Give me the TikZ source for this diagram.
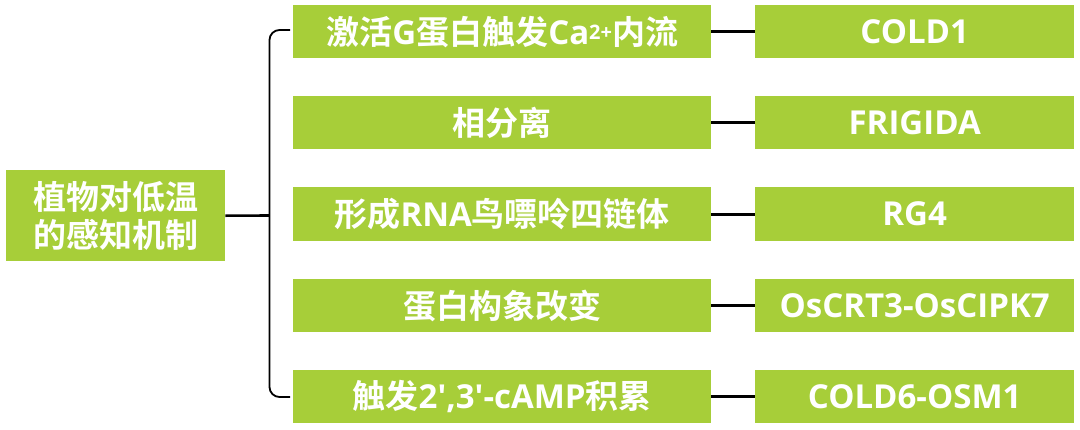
\documentclass[tikz,border=0pt]{standalone}
\usepackage{fontspec}
\setmainfont{Open Sans}[Ligatures=TeXOff]
\newfontfamily\zh{Noto Sans CJK SC}[BoldFont={Noto Sans CJK SC Bold}]
\definecolor{boxgreen}{RGB}{167,206,57}
\begin{document}
\begin{tikzpicture}[x=1pt,y=-1pt,
  gbox/.style={fill=boxgreen,draw=none,inner sep=0pt,anchor=north west,text=white,
    font=\bfseries\fontsize{33}{39}\selectfont,align=center},
  link/.style={line width=2.6pt,draw=black},
  brace/.style={line width=1.8pt,draw=black,rounded corners=10pt}]
\useasboundingbox (0,0) rectangle (1080,429);
% left box
\node[gbox,minimum width=219pt,minimum height=91pt] (root) at (6,170)
  {\zh 植物对低温\\[-1pt]\zh 的感知机制};
% middle boxes
\node[gbox,minimum width=418pt,minimum height=53pt] (m1) at (293,5)
  {{\zh 激活}G{\zh 蛋白触发}Ca\raisebox{5pt}{\fontsize{20}{20}\selectfont 2+}{\zh 内流}};
\node[gbox,minimum width=418pt,minimum height=53pt] (m2) at (293,96) {\zh 相分离};
\node[gbox,minimum width=418pt,minimum height=54pt] (m3) at (293,187) {{\zh 形成}RNA{\zh 鸟嘌呤四链体}};
\node[gbox,minimum width=418pt,minimum height=53pt] (m4) at (293,279) {\zh 蛋白构象改变};
\node[gbox,minimum width=418pt,minimum height=53pt] (m5) at (293,370) {{\zh 触发}2',3'-cAMP{\zh 积累}};
% right boxes
\node[gbox,minimum width=319pt,minimum height=53pt] (r1) at (755,5) {COLD1};
\node[gbox,minimum width=319pt,minimum height=53pt] (r2) at (755,96) {FRIGIDA};
\node[gbox,minimum width=319pt,minimum height=54pt] (r3) at (755,187) {RG4};
\node[gbox,minimum width=319pt,minimum height=53pt] (r4) at (755,279) {OsCRT3-OsCIPK7};
\node[gbox,minimum width=319pt,minimum height=53pt] (r5) at (755,370) {COLD6-OSM1};
% connectors middle -> right
\foreach \i in {1,...,5} {\draw[link] (m\i.east) -- (r\i.west);}
% bracket
\coordinate (bt) at (290,30);
\coordinate (bb) at (290,397);
\coordinate (bx) at (269.5,215.5);
\draw[brace] (bt) -- (bx |- bt) -- (bx |- bb) -- (bb);
\draw[link] (root.east) -- (bx);
\end{tikzpicture}
\end{document}
